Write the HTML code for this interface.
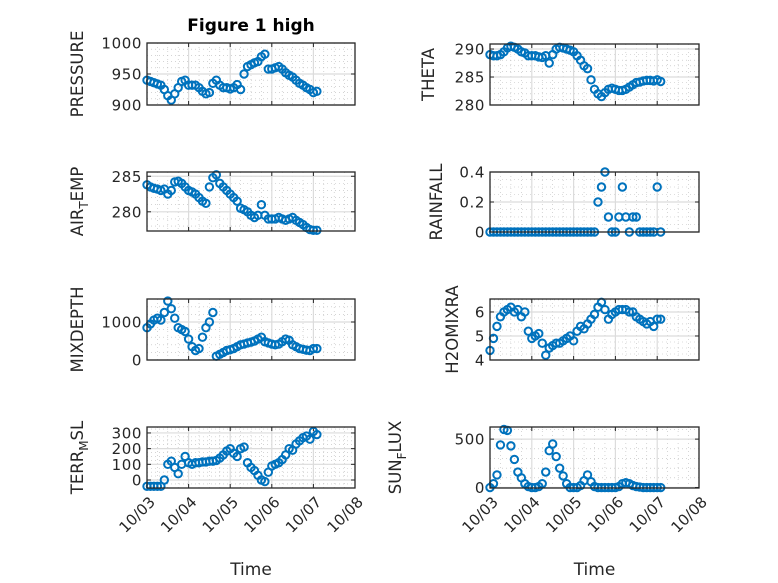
<!DOCTYPE html>
<html><head><meta charset="utf-8"><style>
body{margin:0;background:#fff;}
svg{display:block;font-family:"DejaVu Sans","Liberation Sans",sans-serif;}
</style></head><body>
<svg id="fig" width="778" height="583" viewBox="0 0 778 583">
<rect width="778" height="583" fill="#fff"/>
<text x="251" y="31" text-anchor="middle" font-size="17" font-weight="bold" fill="#000">Figure 1 high</text>
</svg>
<script>
const hours = [0,2,4,6,8,10,12,14,16,18,20,22,24,26,28,30,32,34,36,38,40,42,44,46,48,50,52,54,56,58,60,62,64,66,68,70,72,74,76,78,80,82,84,86,88,90,92,94,96,98];
const xTickLabels = ["10/03","10/04","10/05","10/06","10/07","10/08"];
const pressure = [940,938,936,934,932,925,915,908,918,928,938,940,932,932,932,928,922,918,920,935,940,932,928,928,926,928,933,925,950,962,965,968,970,978,982,958,958,960,962,958,952,948,945,940,935,932,928,925,920,922];
const airTemp = [283.8,283.5,283.3,283.2,283.0,283.2,282.5,283.0,284.2,284.3,284.0,283.5,283.0,282.8,282.5,282.0,281.5,281.2,283.5,284.8,285.2,284.0,283.5,283.0,282.5,282.0,281.5,280.5,280.3,280.0,279.5,279.2,279.5,281.0,279.5,279.0,279.0,279.0,279.2,279.0,278.8,279.0,279.2,278.8,278.5,278.2,277.8,277.5,277.4,277.4];
const mixDepth = [850,950,1050,1100,1050,1250,1550,1350,1100,850,800,750,550,350,250,300,600,850,1000,1250,100,150,200,250,270,300,350,400,420,450,470,500,550,600,480,450,420,400,420,480,550,520,400,350,300,280,260,250,300,300];
const terrMsl = [-40,-40,-40,-40,-40,0,100,120,80,40,100,150,110,100,110,110,115,115,120,120,125,140,160,185,200,170,150,200,210,110,80,60,30,0,-10,50,90,100,110,130,160,200,190,230,250,270,280,260,310,290];
const theta = [289,288.8,288.8,289,289.5,290.2,290.5,290.3,290,289.5,289.3,288.8,288.8,288.8,288.6,288.5,288.8,287.5,289,290,290.3,290.2,290,289.8,289.5,288.8,288,287,286.5,284.5,282.8,282,281.5,282.2,282.8,283,282.8,282.6,282.6,282.8,283.2,283.6,284,284.1,284.3,284.4,284.4,284.3,284.5,284.2];
const rainfall = [0,0,0,0,0,0,0,0,0,0,0,0,0,0,0,0,0,0,0,0,0,0,0,0,0,0,0,0,0,0,0,0.2,0.3,0.4,0.1,0,0,0.1,0.3,0.1,0,0.1,0.1,0,0,0,0,0,0.3,0];
const h2oMix = [4.4,4.9,5.4,5.8,6.0,6.1,6.2,6.0,6.1,5.8,6.0,5.2,4.9,5.0,5.1,4.7,4.2,4.5,4.6,4.7,4.7,4.8,4.9,5.0,4.8,5.2,5.4,5.3,5.5,5.7,5.9,6.2,6.4,6.1,5.7,5.9,6.0,6.1,6.1,6.1,6.0,6.0,5.8,5.7,5.6,5.5,5.6,5.4,5.7,5.7];
const sunFlux = [0,40,130,440,600,590,430,290,160,100,40,10,0,0,10,40,160,380,450,320,200,120,40,0,0,0,20,70,130,60,10,0,0,0,0,0,0,10,40,50,40,20,10,5,0,0,0,0,0,0];
const pressureTicks = [900,950,1000];
const airTempTicks = [280,285];
const mixDepthTicks = [0,1000];
const terrTicks = [0,100,200,300];
const thetaTicks = [280,285,290];
const rainTicks = [0,0.2,0.4];
const h2oTicks = [4,5,6];
const sunTicks = [0,500];

const NS="http://www.w3.org/2000/svg";
const svg=document.getElementById('fig');
function mk(tag,attrs,parent){const e=document.createElementNS(NS,tag);for(const k in attrs)e.setAttribute(k,attrs[k]);(parent||svg).appendChild(e);return e;}

const panels=[
 {name:'pressure',x0:147,x1:355,y0:43,y1:105,ymin:900,ymax:1000,minor:10,data:pressure,ticks:pressureTicks,label:['PRESSURE'],lx:83,xt:false},
 {name:'air-temp',x0:147,x1:355,y0:172,y1:231,ymin:277.3,ymax:285.6,minor:1,data:airTemp,ticks:airTempTicks,label:['AIR','T','EMP'],lx:83,xt:false},
 {name:'mixdepth',x0:147,x1:355,y0:299,y1:360,ymin:0,ymax:1605,minor:200,data:mixDepth,ticks:mixDepthTicks,label:['MIXDEPTH'],lx:83,xt:false},
 {name:'terr-msl',x0:147,x1:355,y0:427,y1:488,ymin:-51,ymax:338,minor:25,data:terrMsl,ticks:terrTicks,label:['TERR','M','SL'],lx:83,xt:true},
 {name:'theta',x0:490,x1:699,y0:44,y1:105,ymin:280,ymax:290.9,minor:1,data:theta,ticks:thetaTicks,label:['THETA'],lx:434,xt:false},
 {name:'rainfall',x0:490,x1:699,y0:172,y1:232,ymin:0,ymax:0.4,minor:0.05,data:rainfall,ticks:rainTicks,label:['RAINFALL'],lx:442,xt:false},
 {name:'h2omixra',x0:490,x1:699,y0:299,y1:360,ymin:4,ymax:6.54,minor:0.25,data:h2oMix,ticks:h2oTicks,label:['H2OMIXRA'],lx:458,xt:false},
 {name:'sun-flux',x0:490,x1:699,y0:427,y1:488,ymin:-5,ymax:625,minor:100,data:sunFlux,ticks:sunTicks,label:['SUN','F','LUX'],lx:401,xt:true}
];

panels.forEach(p=>{
  const g=mk('g',{});
  
  
  const xs=d=>p.x0+(d-3)/5*(p.x1-p.x0);
  const ys=v=>p.y1-(v-p.ymin)/(p.ymax-p.ymin)*(p.y1-p.y0);
  mk('rect',{x:p.x0,y:p.y0,width:p.x1-p.x0,height:p.y1-p.y0,fill:'#fff'},g);
  for(let d=3;d<8;d+=0.25){ if(Math.abs(d-Math.round(d))<1e-6) continue;
    mk('line',{x1:xs(d),x2:xs(d),y1:p.y0,y2:p.y1,stroke:'#bbb','stroke-width':0.6,'stroke-dasharray':'1,3'},g);}
  const start=Math.ceil(p.ymin/p.minor)*p.minor;
  for(let v=start;v<p.ymax;v+=p.minor){
    mk('line',{x1:p.x0,x2:p.x1,y1:ys(v),y2:ys(v),stroke:'#bbb','stroke-width':0.6,'stroke-dasharray':'1,3'},g);}
  for(let d=4;d<8;d++) mk('line',{x1:xs(d),x2:xs(d),y1:p.y0,y2:p.y1,stroke:'#dcdcdc','stroke-width':1.2},g);
  p.ticks.forEach(v=>{
    mk('line',{x1:p.x0,x2:p.x1,y1:ys(v),y2:ys(v),stroke:'#dcdcdc','stroke-width':1.2},g);
    mk('line',{x1:p.x0,x2:p.x0+4,y1:ys(v),y2:ys(v),stroke:'#262626','stroke-width':1},g);
    mk('line',{x1:p.x1,x2:p.x1-4,y1:ys(v),y2:ys(v),stroke:'#262626','stroke-width':1},g);
    const t=mk('text',{x:p.x0-5,y:ys(v)+5.5,'text-anchor':'end','font-size':15,fill:'#262626','letter-spacing':0.6},g);
    t.textContent=String(v);
    
    
  });
  for(let d=3;d<=8;d++){
    mk('line',{x1:xs(d),x2:xs(d),y1:p.y1,y2:p.y1-4,stroke:'#262626','stroke-width':1},g);
    mk('line',{x1:xs(d),x2:xs(d),y1:p.y0,y2:p.y0+4,stroke:'#262626','stroke-width':1},g);
  }
  p.data.forEach((v,i)=>{
    const c=mk('circle',{cx:xs(3+hours[i]/24),cy:ys(v),r:3.7,fill:'none',stroke:'#0072BD','stroke-width':2},g);
    
    
  });
  mk('rect',{x:p.x0,y:p.y0,width:p.x1-p.x0,height:p.y1-p.y0,fill:'none',stroke:'#262626','stroke-width':1.3},g);
  const cy=(p.y0+p.y1)/2;
  const lab=mk('text',{x:0,y:0,'text-anchor':'middle','font-size':16.5,fill:'#262626',transform:`translate(${p.lx},${cy}) rotate(-90)`},g);
  
  
  if(p.label.length===1) lab.textContent=p.label[0];
  else{
    const a=mk('tspan',{},lab);a.textContent=p.label[0];
    const b=mk('tspan',{dy:5,'font-size':12},lab);b.textContent=p.label[1];
    const c=mk('tspan',{dy:-5},lab);c.textContent=p.label[2];
  }
  if(p.xt){
    xTickLabels.forEach((s,k)=>{
      const x=xs(3+k);
      const t=mk('text',{x:0,y:0,'text-anchor':'end','font-size':15,fill:'#262626',transform:`translate(${x+9},${p.y1+15}) rotate(-45)`},g);
      t.textContent=s;
      
      
    });
    const xl=mk('text',{x:(p.x0+p.x1)/2,y:575,'text-anchor':'middle','font-size':17,fill:'#262626'},g);
    xl.textContent='Time';
    
    
  }
});
</script>
</body></html>
